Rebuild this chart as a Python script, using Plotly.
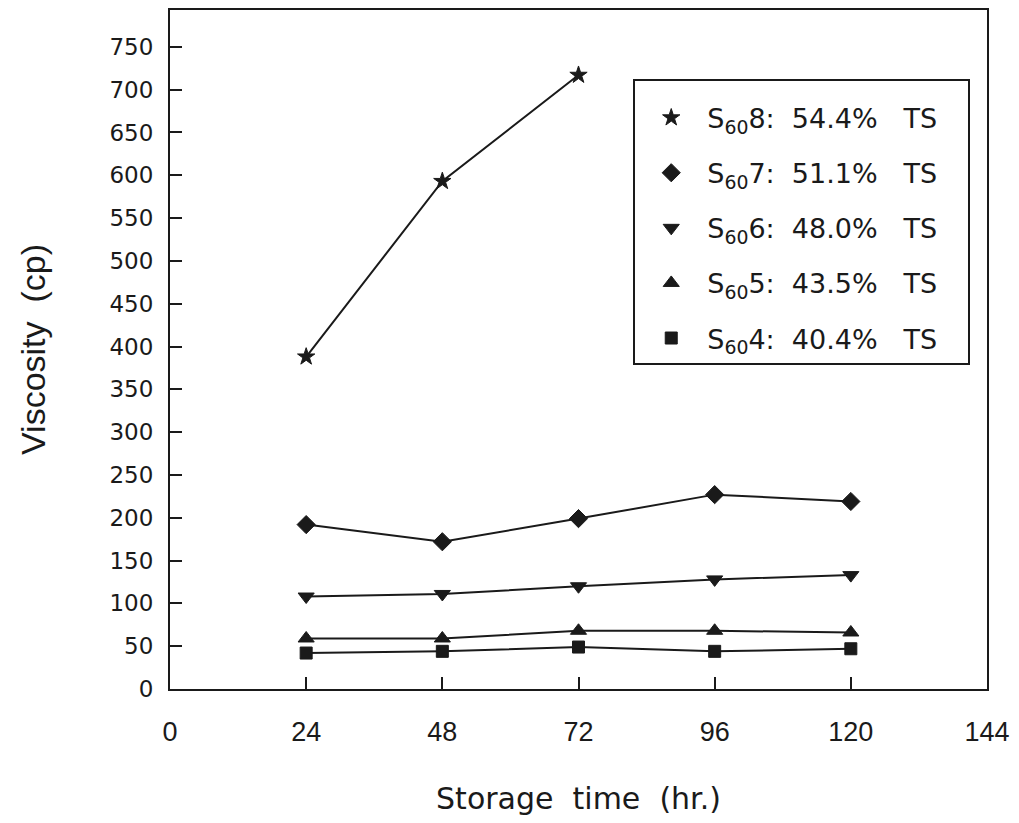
import plotly.graph_objects as go

hours = [24, 48, 72, 96, 120]
s8_hours = [24, 48, 72]
s8 = [388, 593, 717]
s7 = [192, 172, 199, 227, 219]
s6 = [108, 111, 120, 128, 133]
s5 = [59, 59, 68, 68, 66]
s4 = [42, 44, 49, 44, 47]

pad = "&nbsp;" * 3
series = [
    ("S<sub>60</sub>8:&nbsp;&nbsp;54.4%&nbsp;&nbsp;&nbsp;TS" + pad, s8_hours, s8, "star", 13),
    ("S<sub>60</sub>7:&nbsp;&nbsp;51.1%&nbsp;&nbsp;&nbsp;TS" + pad, hours, s7, "diamond", 14),
    ("S<sub>60</sub>6:&nbsp;&nbsp;48.0%&nbsp;&nbsp;&nbsp;TS" + pad, hours, s6, "triangle-down", 14),
    ("S<sub>60</sub>5:&nbsp;&nbsp;43.5%&nbsp;&nbsp;&nbsp;TS" + pad, hours, s5, "triangle-up", 14),
    ("S<sub>60</sub>4:&nbsp;&nbsp;40.4%&nbsp;&nbsp;&nbsp;TS" + pad, hours, s4, "square", 12),
]

x_ticks = [0, 24, 48, 72, 96, 120, 144]
y_ticks = list(range(0, 751, 50))

ink = "#1a1a1a"
fig = go.Figure()
for i, (name, xs, ys, sym, size) in enumerate(series):
    fig.add_trace(go.Scatter(x=xs, y=ys, mode="lines", line=dict(color=ink, width=2),
                             showlegend=False, hoverinfo="skip"))
for i, (name, xs, ys, sym, size) in enumerate(series):
    fig.add_trace(go.Scatter(x=xs, y=ys, mode="markers", name=name, legendgroup=f"g{i}",
                             marker=dict(symbol=sym, size=size, color=ink,
                                         line=dict(color=ink, width=1))))

fig.update_layout(
    width=1019, height=823,
    margin=dict(l=170, r=32, t=8, b=134),
    paper_bgcolor="white", plot_bgcolor="white",
    font=dict(family="DejaVu Sans", color=ink),
    showlegend=True,
    legend=dict(x=0.567, y=0.899, xanchor="left", yanchor="top",
                bordercolor=ink, borderwidth=2, bgcolor="white",
                font=dict(family="DejaVu Sans", size=27, color=ink),
                title=dict(text=" ", font=dict(size=10)),
                tracegroupgap=17, itemwidth=62, traceorder="grouped"),
    xaxis=dict(range=[0, 144], tickvals=x_ticks, ticktext=[str(v) for v in x_ticks],
               ticks="inside", ticklen=12, tickwidth=2, tickcolor=ink,
               showline=True, linecolor=ink, linewidth=2, mirror=True,
               showgrid=False, zeroline=False,
               tickfont=dict(family="Liberation Sans", size=27, color=ink),
               ticklabelstandoff=18,
               title=dict(text="Storage&nbsp;&nbsp;time&nbsp;&nbsp;(hr.)", standoff=42,
                          font=dict(family="DejaVu Sans", size=30, color=ink))),
    yaxis=dict(range=[0, 793], tickvals=y_ticks,
               ticks="inside", ticklen=12, tickwidth=2, tickcolor=ink,
               showline=True, linecolor=ink, linewidth=2, mirror=True,
               showgrid=False, zeroline=False,
               tickfont=dict(family="DejaVu Sans", size=23, color=ink),
               ticklabelstandoff=10,
               title=dict(text="Viscosity&nbsp;&nbsp;(cp)", standoff=54,
                          font=dict(family="Liberation Sans", size=34, color=ink))),
)

fig.write_html("out.html")
